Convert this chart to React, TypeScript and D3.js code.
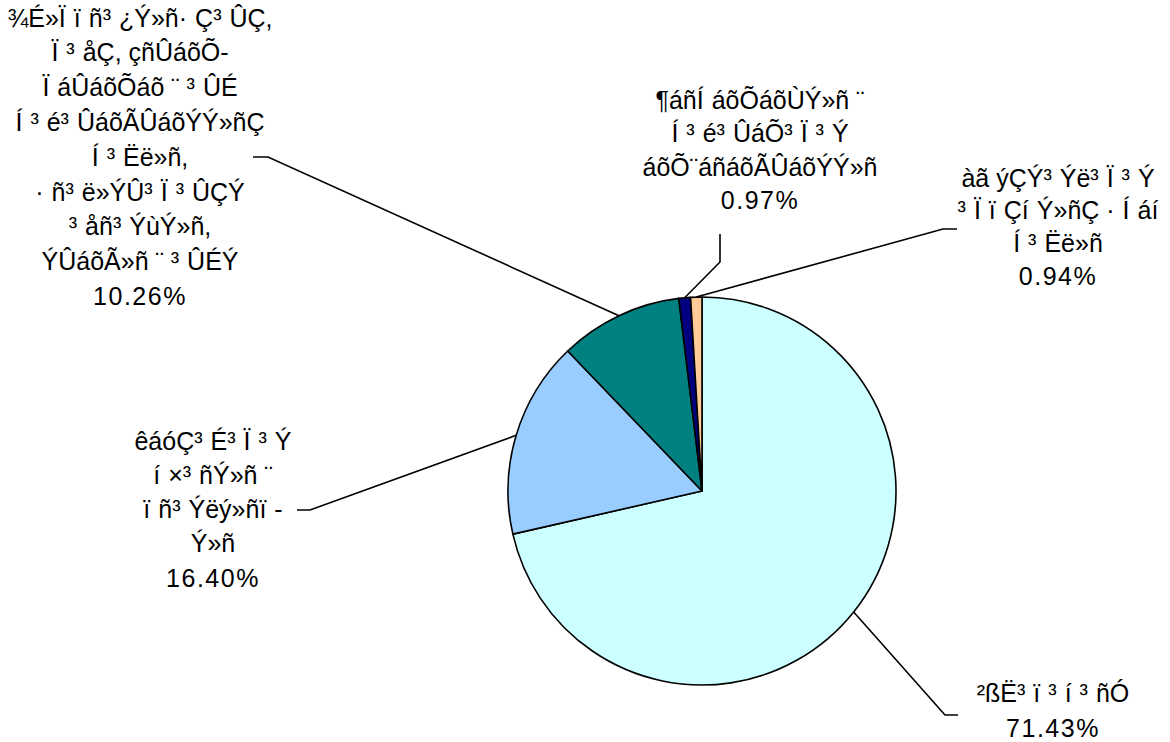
import React from "react";
import * as d3 from "d3";

// ---- data ----
const categories: string[][] = [
  ["²ßË³ï³í³ñÓ"],
  ["êáóÇ³É³Ï³Ý", "í×³ñÝ»ñ ¨", "ïñ³Ýëý»ñï-", "Ý»ñ"],
  [
    "¾É»Ïïñ³¿Ý»ñ·Ç³ÛÇ,",
    "Ï³åÇ, çñÛáõÕ-",
    "ÏáÛáõÕáõ ¨ ³ÛÉ",
    "Í³é³ÛáõÃÛáõÝÝ»ñÇ",
    "Í³Ëë»ñ,",
    "·ñ³ë»ÝÛ³Ï³ÛÇÝ",
    "³åñ³ÝùÝ»ñ,",
    "ÝÛáõÃ»ñ ¨ ³ÛÉÝ",
  ],
  ["¶áñÍáõÕáõÙÝ»ñ ¨", "Í³é³ÛáÕ³Ï³Ý", "áõÕ¨áñáõÃÛáõÝÝ»ñ"],
  ["àã ýÇÝ³Ýë³Ï³Ý", "³ÏïÇíÝ»ñÇ ·Íáí", "Í³Ëë»ñ"],
];
const values: number[] = [71.43, 16.4, 10.26, 0.97, 0.94];
const percentLabels: string[] = ["71.43%", "16.40%", "10.26%", "0.97%", "0.94%"];

// ---- styles / layout ----
const colors = ["#CCFFFF", "#99CCFF", "#008080", "#000080", "#FFCC99"];
const W = 1170;
const H = 742;
const CX = 702;
const CY = 491;
const R = 194;
const FONT = "'Liberation Sans', Arial, sans-serif";
const FS = 25;
const GAP = 8;
const GAP_CHARS = "³ïÏÍ·í";

// label block layout: centre x, first line centre y, line height
const labelLayout = [
  { cx: 1053, y0: 693, lh: 35 },
  { cx: 213, y0: 441, lh: 34.3 },
  { cx: 140, y0: 18, lh: 34.8 },
  { cx: 760, y0: 100, lh: 33.5 },
  { cx: 1058, y0: 178, lh: 32.8 },
];
// leader line fixed points near labels (the last point is on the pie)
const leaderLayout: [number, number][][] = [
  [[958, 715], [945, 715]],
  [[297, 510], [310, 510]],
  [[253, 157], [268, 157]],
  [[720, 234], [720, 262]],
  [[957, 229], [943, 229]],
];

function segments(s: string): string[] {
  const out: string[] = [];
  let cur = "";
  const chars = Array.from(s);
  chars.forEach((ch, i) => {
    cur += ch;
    const next = chars[i + 1];
    if (GAP_CHARS.includes(ch) && next !== undefined && next !== " ") {
      out.push(cur);
      cur = "";
    }
  });
  if (cur) out.push(cur);
  return out;
}

export default function App() {
  const pie = d3
    .pie<number>()
    .sort(null)
    .value((d) => d)
    .startAngle(0)
    .endAngle(2 * Math.PI);
  const arcs = pie(values);
  const arcGen = d3.arc<d3.PieArcDatum<number>>().innerRadius(0).outerRadius(R);
  const line = d3.line();

  return (
    <svg
      width={W}
      height={H}
      style={{ position: "absolute", left: 0, top: 0, background: "#fff" }}
      fontFamily={FONT}
      fontSize={FS}
    >
      <rect width={W} height={H} fill="#fff" />
      <g transform={`translate(${CX},${CY})`}>
        {arcs.map((a, i) => (
          <path
            key={i}
            d={arcGen(a) || ""}
            fill={colors[i]}
            stroke="#000"
            strokeWidth={1.6}
            strokeLinejoin="round"
          />
        ))}
      </g>
      {arcs.map((a, i) => {
        const mid = (a.startAngle + a.endAngle) / 2;
        const p: [number, number] = [CX + R * Math.sin(mid), CY - R * Math.cos(mid)];
        const pts = [...leaderLayout[i], p];
        return (
          <path key={"l" + i} d={line(pts) || ""} fill="none" stroke="#000" strokeWidth={1.6} />
        );
      })}
      {categories.map((lines, i) => {
        const lay = labelLayout[i];
        return (
          <g key={"t" + i}>
            {lines.map((ln, j) => (
              <text
                key={j}
                x={lay.cx}
                y={lay.y0 + j * lay.lh + 8.5}
                textAnchor="middle"
                fill="#000"
              >
                {segments(ln).map((s, k) => (
                  <tspan key={k} dx={k === 0 ? 0 : GAP}>
                    {s}
                  </tspan>
                ))}
              </text>
            ))}
            <text
              x={lay.cx}
              y={lay.y0 + lines.length * lay.lh + 8.5}
              textAnchor="middle"
              fill="#000"
              letterSpacing={1.5}
            >
              {percentLabels[i]}
            </text>
          </g>
        );
      })}
    </svg>
  );
}
